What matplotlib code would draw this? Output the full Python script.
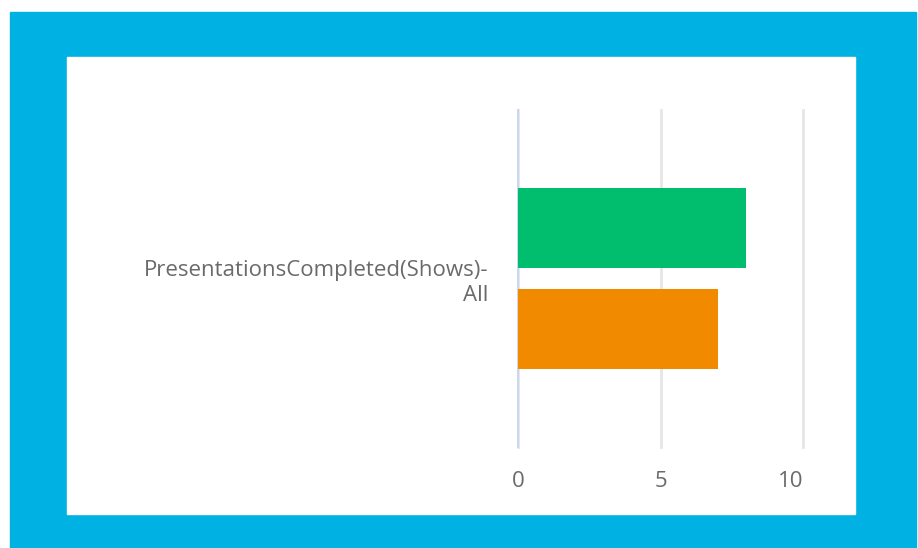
import matplotlib.pyplot as plt
from matplotlib.patches import Rectangle

# data
category = "PresentationsCompleted(Shows)-\nAll"
series_values = [8, 7]
series_colors = ["#00be6e", "#f28a00"]
x_ticks = [0, 5, 10]

W, H = 918, 548
fig = plt.figure(figsize=(W / 100, H / 100), dpi=100)
fig.patch.set_facecolor("white")

# blue frame and white panel (pixel boxes -> figure coords)
def px_box(x0, y0, x1, y1, color, z):
    fig.patches.append(Rectangle((x0 / W, 1 - y1 / H), (x1 - x0) / W, (y1 - y0) / H,
                                 transform=fig.transFigure, color=color, zorder=z))

px_box(10, 12, 916, 548, "#00b2e3", -3)
px_box(67, 57, 855, 514, "white", -2)

ax = fig.add_axes([518 / W, 1 - 447 / H, (803 - 518) / W, (447 - 110) / H])
ax.set_facecolor("none")
ax.set_zorder(1)

bar_h = 0.237
offsets = [0.15, -0.15]
for val, off, col in zip(series_values, offsets, series_colors):
    ax.barh(off, val, height=bar_h, color=col, zorder=3)

ax.set_xlim(0, 10)
ax.set_ylim(-0.5, 0.5)
ax.set_xticks(x_ticks)
ax.set_yticks([0])
ax.set_yticklabels([category], fontsize=16, color="#6a6a6a", family="Open Sans",
                   ha="right", linespacing=1.25)
for lab in ax.get_xticklabels():
    lab.set_fontsize(16)
    lab.set_color("#6a6a6a")
    lab.set_family("Open Sans")
ax.get_xticklabels()[-1].set_ha("right")

ax.tick_params(axis="both", length=0)
ax.tick_params(axis="y", pad=21)
ax.tick_params(axis="x", pad=17)

for s in ax.spines.values():
    s.set_visible(False)

ax.grid(axis="x", color="#e6e6e6", linewidth=2, zorder=1)
for gl in ax.get_xgridlines():
    gl.set_clip_on(False)
ax.axvline(0, color="#cdd7f2", linewidth=1.5, zorder=2, clip_on=False)

fig.savefig("out.png", dpi=100)
